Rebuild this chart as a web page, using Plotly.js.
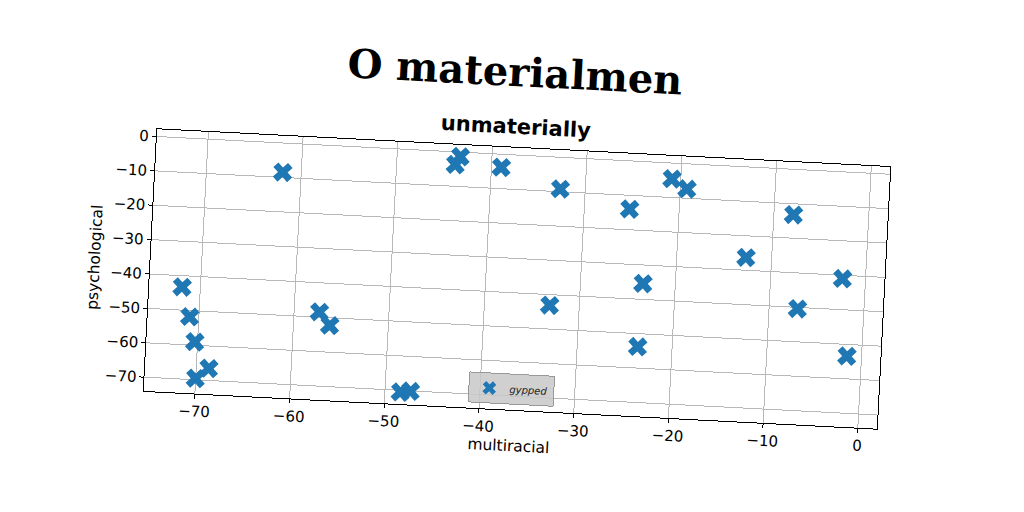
<!DOCTYPE html>
<html>
<head>
<meta charset="utf-8">
<script src="https://cdn.plot.ly/plotly-3.0.1.min.js"></script>
<style>
  html, body { margin: 0; padding: 0; background: #ffffff; overflow: hidden; }
  #wrap { position: absolute; left: 0; top: 0; width: 1024px; height: 512px;
          transform: rotate(2.95deg); transform-origin: 517.4px 279.2px; }
  #chart { width: 1024px; height: 512px; }
</style>
</head>
<body>
<div id="wrap"><div id="chart"></div></div>
<script>
const seriesName = "gypped";
const xValues = [-61.95, -71.92, -70.96, -70.29, -68.68, -70.02, -57.33, -56.17, -48.37, -47.32,
                 -43.33, -43.81, -38.96, -32.63, -25.22, -23.41, -33.12, -23.63, -20.92, -19.29,
                 -7.93, -12.7, -2.42, -7.0, -1.54];
const yValues = [-8.5, -43.3, -51.8, -59.0, -66.5, -69.6, -48.5, -52.2, -70.5, -70.1,
                 -1.3, -3.7, -3.8, -9.2, -14.0, -35.4, -43.1, -53.8, -4.6, -7.3,
                 -13.2, -26.3, -31.0, -40.4, -53.4];
const mainTitle = "O materialmen";
const axesTitle = "unmaterially";
const xLabel = "multiracial";
const yLabel = "psychological";

const trace = {
  type: "scatter", mode: "markers", name: seriesName,
  x: xValues, y: yValues,
  marker: { symbol: "x", size: 17, color: "#1f77b4", line: { width: 0 } },
  showlegend: true
};

const axisCommon = {
  showline: true, linecolor: "#000", linewidth: 1, mirror: true,
  ticks: "outside", ticklen: 4, tickcolor: "#000", tickwidth: 1,
  showgrid: true, gridcolor: "#b8b8b8", gridwidth: 1, zeroline: false,
  tickfont: { family: "DejaVu Sans", size: 15, color: "#000" }
};

const layout = {
  width: 1024, height: 512,
  paper_bgcolor: "rgba(0,0,0,0)", plot_bgcolor: "rgba(0,0,0,0)",
  margin: { l: 150.4, r: 139.6, t: 148.2, b: 101.8, pad: 0 },
  title: { text: mainTitle, xref: "container", yref: "container",
           x: 0.4925, y: 1 - 72.4 / 512, xanchor: "center", yanchor: "middle",
           font: { family: "DejaVu Serif", size: 40, weight: 700, color: "#000" } },
  xaxis: Object.assign({}, axisCommon, {
    range: [-75.4, 2.0], dtick: 10, tick0: 0,
    title: { text: xLabel, standoff: 4, font: { family: "DejaVu Sans", size: 15.5, color: "#000" } }
  }),
  yaxis: Object.assign({}, axisCommon, {
    range: [-74.0, 2.1], dtick: 10, tick0: 0,
    title: { text: yLabel, standoff: 6, font: { family: "DejaVu Sans", size: 15.5, color: "#000" } }
  }),
  legend: {
    x: 0.5, y: 0.02, xanchor: "center", yanchor: "bottom",
    itemsizing: "constant",
    bgcolor: "rgba(200,200,200,0.85)", bordercolor: "#999", borderwidth: 1,
    font: { family: "DejaVu Sans", size: 10, style: "italic", color: "#222" }
  },
  annotations: [{
    text: axesTitle, xref: "paper", yref: "paper",
    x: (508.2 - 150.4) / 734, y: 1 + (148.2 - 127.3) / 262,
    xanchor: "center", yanchor: "middle", showarrow: false,
    font: { family: "DejaVu Sans", size: 21, weight: 700, color: "#000" }
  }]
};

Plotly.newPlot("chart", [trace], layout, { staticPlot: true, displayModeBar: false });
</script>
</body>
</html>
